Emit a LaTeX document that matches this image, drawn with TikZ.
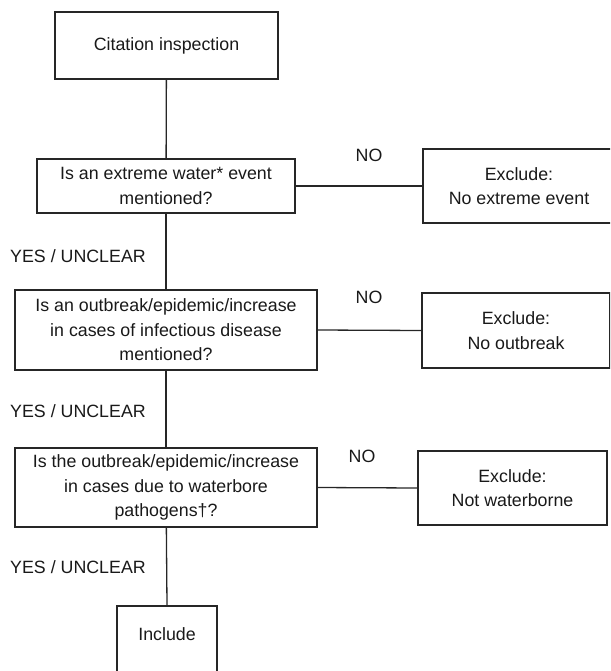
\documentclass[tikz,border=0pt]{standalone}
\usepackage{fontspec}
\setmainfont{Liberation Sans}
\begin{document}
\begin{tikzpicture}[x=1pt,y=-1pt,
  box/.style={draw=black!85, line width=1.3pt, align=center, inner sep=0pt,
    font=\fontsize{17.8}{24.5}\selectfont, text=black!90},
  lbl/.style={inner sep=0pt, font=\fontsize{17.8}{22}\selectfont, text=black!90},
  conn/.style={draw=black!85, line width=1.3pt}]
\useasboundingbox (0,0) rectangle (610,671);
\clip (0,0) rectangle (610,671);
\node[box, minimum width=223pt, minimum height=67pt] (cit) at (166.5,45.5) {Citation inspection};
\node[box, minimum width=258pt, minimum height=54pt] (q1) at (166,186) {Is an extreme water* event\\mentioned?};
\node[box, minimum width=302pt, minimum height=80pt] (q2) at (166,330) {Is an outbreak/epidemic/increase\\in cases of infectious disease\\mentioned?};
\node[box, minimum width=302pt, minimum height=79pt] (q3) at (166,487.5) {Is the outbreak/epidemic/increase\\in cases due to waterbore\\pathogens†?};
\node[box, minimum width=100pt, minimum height=94pt] (inc) at (167,653) {};
\node[lbl] (inct) at (167,634) {Include};
\node[box, minimum width=192pt, minimum height=74pt] (ex1) at (519,186) {Exclude:\\No extreme event};
\node[box, minimum width=188pt, minimum height=75pt] (ex2) at (516,330.5) {Exclude:\\No outbreak};
\node[box, minimum width=189pt, minimum height=74pt] (ex3) at (512.5,488) {Exclude:\\Not waterborne};
\draw[conn] (cit) -- (q1);
\draw[conn] (q1) -- (q2);
\draw[conn] (q2) -- (q3);
\draw[conn] (q3) -- (inc.north);
\draw[conn] (q1.east) -- (ex1.west);
\draw[conn] (q2.east) -- (ex2.west);
\draw[conn] (q3.east) -- (ex3.west);
\node[lbl] (y1) at (78,256) {YES / UNCLEAR};
\node[lbl] (y2) at (78,411) {YES / UNCLEAR};
\node[lbl] (y3) at (78,567) {YES / UNCLEAR};
\node[lbl] (n1) at (369,155) {NO};
\node[lbl] (n2) at (369,297) {NO};
\node[lbl] (n3) at (362,456) {NO};
\end{tikzpicture}
\end{document}
